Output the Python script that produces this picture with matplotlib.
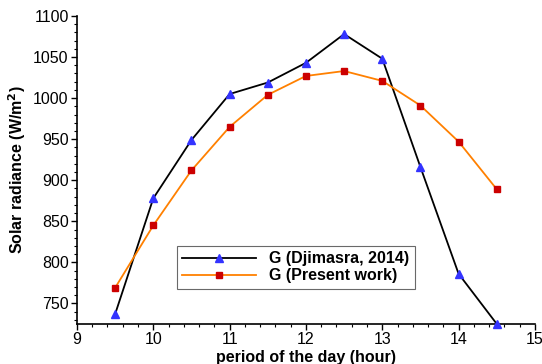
import matplotlib
matplotlib.use("Agg")
import matplotlib.pyplot as plt
from matplotlib.ticker import MultipleLocator

plt.rcParams['font.family'] = ['Liberation Sans', 'DejaVu Sans']

hours = [9.5, 10, 10.5, 11, 11.5, 12, 12.5, 13, 13.5, 14, 14.5]
g_djimasra = [737, 878, 949, 1005, 1019, 1043, 1078, 1048, 916, 786, 725]
g_present = [769, 845, 912, 965, 1004, 1027, 1033, 1021, 991, 947, 889]
xticks = [9, 10, 11, 12, 13, 14, 15]
yticks = [750, 800, 850, 900, 950, 1000, 1050, 1100]

fig = plt.figure(figsize=(5.42, 3.64), dpi=100)
ax = fig.add_axes([0.142, 0.11, 0.845, 0.846])

ax.plot(hours, g_djimasra, color='black', lw=1.3, marker='^', ms=6,
        markerfacecolor='#3333ff', markeredgecolor='#3333ff',
        label='G (Djimasra, 2014)', clip_on=False, zorder=3)
ax.plot(hours, g_present, color='#ff8000', lw=1.3, marker='s', ms=4.8,
        markerfacecolor='#cc0000', markeredgecolor='#cc0000',
        label='G (Present work)', clip_on=False, zorder=3)

ax.set_xlim(9, 15)
ax.set_ylim(725, 1100)
ax.set_xticks(xticks)
ax.set_yticks(yticks)
ax.xaxis.set_minor_locator(MultipleLocator(0.2))
ax.yaxis.set_minor_locator(MultipleLocator(10))
ax.tick_params(axis='both', which='major', length=4, width=1, labelsize=11.5, pad=2)
ax.tick_params(axis='both', which='minor', length=2, width=0.8)

for s in ['top', 'right']:
    ax.spines[s].set_visible(False)
for s in ['left', 'bottom']:
    ax.spines[s].set_linewidth(1.2)

ax.set_xlabel('period of the day (hour)', fontsize=11.5, fontweight='bold', labelpad=2)
ax.set_ylabel('Solar radiance (W/m$^\\mathbf{2}$)', fontsize=11.5, fontweight='bold', labelpad=4)

leg = ax.legend(loc='lower left', bbox_to_anchor=(0.218, 0.114), frameon=True,
                fancybox=False, edgecolor='#444444',
                prop={'weight': 'bold', 'size': 11.5}, handlelength=4.6,
                borderpad=0.35, labelspacing=0.12, handletextpad=0.85,
                borderaxespad=0)
leg.get_frame().set_linewidth(0.8)

fig.savefig('out.png', dpi=100)
